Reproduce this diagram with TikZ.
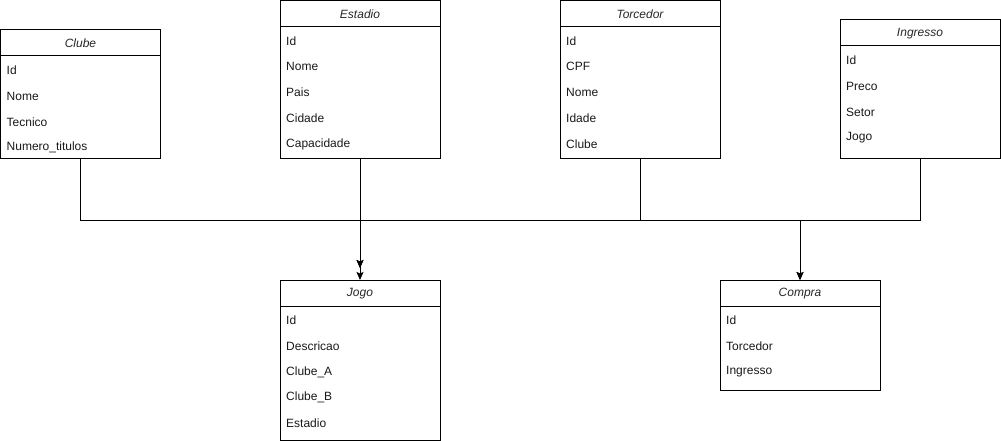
\documentclass[tikz,border=0pt]{standalone}
\usepackage{fontspec}
\setmainfont{Liberation Sans}
\usetikzlibrary{arrows.meta,calc}
\begin{document}
\begin{tikzpicture}[x=1pt,y=-1pt,
  every node/.style={font=\fontsize{12}{14}\selectfont},
  box/.style={draw=black,line width=1pt,minimum width=160pt,inner sep=0pt,outer sep=0pt,anchor=north west},
  ttl/.style={font=\fontsize{12}{14}\selectfont\itshape,text=black!85,anchor=center},
  attr/.style={anchor=west,inner sep=0pt,text=black!90},
  arr/.style={line width=1pt,-{Stealth[length=8pt,width=7pt,inset=1.5pt]}}]
\useasboundingbox (0,0) rectangle (1001,441);
\newcommand{\entity}[6]{% name, title, x, y, height, rows
  \node[box,minimum height=#5pt] (#1) at (#3,#4) {};
  \draw[line width=1pt] ($(#1.north west)+(0,26)$) -- ($(#1.north east)+(0,26)$);
  \node[ttl] (#1-t) at ($(#1.north)+(0,13.5)$) {#2};
  \foreach \lbl [count=\i] in {#6}{
    \node[attr] (#1-\i) at ($(#1.north west)+(6,14.5+25.8*\i)$) {\lbl};
  }
}
\entity{clube}{Clube}{0.5}{30}{128}{Id,Nome,Tecnico,Numero\_titulos}
\entity{estadio}{Estadio}{280}{0.5}{157.5}{Id,Nome,Pais,Cidade,Capacidade}
\entity{torcedor}{Torcedor}{560}{0.5}{157.5}{Id,CPF,Nome,Idade,Clube}
\entity{ingresso}{Ingresso}{840}{20}{138}{Id,Preco,Setor,Jogo}
\entity{jogo}{Jogo}{280}{280}{160}{Id,Descricao,Clube\_A,Clube\_B,Estadio}
\entity{compra}{Compra}{720}{280}{110}{Id,Torcedor,Ingresso}
\coordinate (bus) at (0,220);
\draw[arr,shorten >=12pt] (clube.south) -- (clube.south |- bus) -- (jogo.north |- bus) -- (jogo.north);
\draw[arr,shorten >=12pt] (ingresso.south) -- (ingresso.south |- bus) -- (jogo.north |- bus) -- (jogo.north);
\draw[arr] (estadio.south) -- (jogo.north);
\draw[arr] (torcedor.south) -- (torcedor.south |- bus) -- (compra.north |- bus) -- (compra.north);
\draw[arr] (ingresso.south) -- (ingresso.south |- bus) -- (compra.north |- bus) -- (compra.north);
\end{tikzpicture}
\end{document}
